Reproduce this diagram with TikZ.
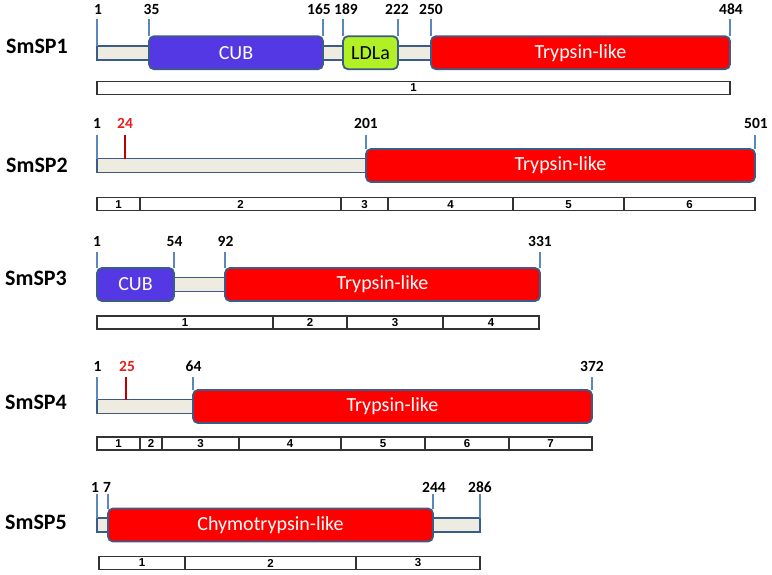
\documentclass[tikz,border=0pt]{standalone}
\usepackage{fontspec}
\setmainfont{Carlito}
\newfontfamily\exonfont{Liberation Sans}
\usetikzlibrary{positioning}
\definecolor{cubblue}{RGB}{84,56,228}
\definecolor{ldlgreen}{RGB}{176,240,36}
\definecolor{tryred}{RGB}{255,0,0}
\definecolor{chain}{RGB}{238,236,225}
\definecolor{edge}{RGB}{60,92,136}
\definecolor{tickblue}{RGB}{90,135,190}
\definecolor{sigred}{RGB}{192,0,0}
\definecolor{sigtext}{RGB}{230,30,30}

\begin{document}
\begin{tikzpicture}[x=1pt,y=-1pt]
\tikzstyle {prot}=[font=\fontsize{22}{26}\selectfont\bfseries]
\tikzstyle {posnum}=[font=\fontsize{15.5}{18}\selectfont\bfseries, inner sep=0pt]
\tikzstyle {signum}=[posnum, text=sigtext]
\tikzstyle {chn}=[rectangle, anchor=west, minimum height=14pt, inner sep=0pt, outer sep=0pt, fill=chain, draw=edge, line width=1.8pt]
\tikzstyle {dom}=[rectangle, rounded corners=5pt, anchor=west, minimum height=33pt, inner sep=0pt, outer sep=0pt, draw=edge, line width=1.8pt, font=\fontsize{20}{24}\selectfont, text=white]
\tikzstyle {cub}=[dom, fill=cubblue]
\tikzstyle {ldl}=[dom, fill=ldlgreen, text=black]
\tikzstyle {tryp}=[dom, fill=tryred]
\tikzstyle {tk}=[draw=tickblue, line width=1.3pt]
\tikzstyle {sigtk}=[draw=sigred, line width=1.5pt]
\tikzstyle {exon}=[rectangle, draw=black!80, line width=1.2pt, fill=white, minimum height=13pt, inner sep=0pt, outer sep=0pt, font=\exonfont\fontsize{11.5}{13}\selectfont\bfseries]
\useasboundingbox (0,0) rectangle (772,574);
% SmSP1
\node (sp1) [prot] at (37,46) {SmSP1};
\node (bb1) [chn, minimum width=334pt] at (97,52.7) {};
\node (cub1) [cub, minimum width=174pt] at (149,52.7) {CUB};
\node (ldl1) [ldl, minimum width=55pt] at (343,52.7) {LDLa};
\node (tryp1) [tryp, minimum width=299pt] at (431,52.7) {Trypsin-like};
\node (n1a) [posnum] at (98,9.5) {1};
\node (n1b) [posnum] at (151.5,9.5) {35};
\node (n1c) [posnum] at (319,9.5) {165};
\node (n1d) [posnum] at (346,9.5) {189};
\node (n1e) [posnum] at (397,9.5) {222};
\node (n1f) [posnum] at (431,9.5) {250};
\node (n1g) [posnum] at (731,9.5) {484};
\coordinate (k1a) at (97,19);
\coordinate (k1b) at (149,19);
\coordinate (k1c) at (323,19);
\coordinate (k1d) at (343,19);
\coordinate (k1e) at (398,19);
\coordinate (k1f) at (431,19);
\coordinate (k1g) at (730,19);
\draw[tk] (k1a) -- (bb1.north west);
\draw[tk] (k1b) -- (cub1.north west);
\draw[tk] (k1c) -- (cub1.north east);
\draw[tk] (k1d) -- (ldl1.north west);
\draw[tk] (k1e) -- (ldl1.north east);
\draw[tk] (k1f) -- (tryp1.north west);
\draw[tk] (k1g) -- (tryp1.north east);
\node (x11) [exon, anchor=west, minimum width=633pt] at (97,87.7) {1};
% SmSP2
\node (sp2) [prot] at (37,165) {SmSP2};
\node (bb2) [chn, minimum width=269pt] at (97,165.5) {};
\node (tryp2) [tryp, minimum width=389pt] at (366,165.5) {Trypsin-like};
\node (n2a) [posnum] at (97,123.5) {1};
\node (n2b) [signum] at (125,123.5) {24};
\node (n2c) [posnum] at (366,123.5) {201};
\node (n2d) [posnum] at (756,123.5) {501};
\coordinate (k2a) at (97,135);
\coordinate (k2b) at (125,135);
\coordinate (k2c) at (366,135);
\coordinate (k2d) at (755,135);
\draw[tk] (k2a) -- (bb2.north west);
\draw[sigtk] (k2b) -- (k2b |- bb2.north);
\draw[tk] (k2c) -- (tryp2.north west);
\draw[tk] (k2d) -- (tryp2.north east);
\node (x21) [exon, anchor=west, minimum width=43pt] at (97,204.3) {1};
\node (x22) [exon, right=0pt of x21, minimum width=201pt] {2};
\node (x23) [exon, right=0pt of x22, minimum width=47pt] {3};
\node (x24) [exon, right=0pt of x23, minimum width=125pt] {4};
\node (x25) [exon, right=0pt of x24, minimum width=111pt] {5};
\node (x26) [exon, right=0pt of x25, minimum width=131pt] {6};
% SmSP3
\node (sp3) [prot] at (36,278.5) {SmSP3};
\node (bb3) [chn, minimum width=128pt] at (97,284.5) {};
\node (cub3) [cub, minimum width=77pt] at (97,284.5) {CUB};
\node (tryp3) [tryp, minimum width=315pt] at (225,284.5) {Trypsin-like};
\node (n3a) [posnum] at (97,241.5) {1};
\node (n3b) [posnum] at (174.5,241.5) {54};
\node (n3c) [posnum] at (225.5,241.5) {92};
\node (n3d) [posnum] at (540,241.5) {331};
\coordinate (k3a) at (97,252);
\coordinate (k3b) at (174,252);
\coordinate (k3c) at (225,252);
\coordinate (k3d) at (540,252);
\draw[tk] (k3a) -- (cub3.north west);
\draw[tk] (k3b) -- (cub3.north east);
\draw[tk] (k3c) -- (tryp3.north west);
\draw[tk] (k3d) -- (tryp3.north east);
\node (x31) [exon, anchor=west, minimum width=176pt] at (97,322.5) {1};
\node (x32) [exon, right=0pt of x31, minimum width=74pt] {2};
\node (x33) [exon, right=0pt of x32, minimum width=96pt] {3};
\node (x34) [exon, right=0pt of x33, minimum width=96pt] {4};
% SmSP4
\node (sp4) [prot] at (36,402.5) {SmSP4};
\node (bb4) [chn, minimum width=96pt] at (97,406.5) {};
\node (tryp4) [tryp, minimum width=399pt] at (193,406.5) {Trypsin-like};
\node (n4a) [posnum] at (97.5,366.5) {1};
\node (n4b) [signum] at (127,366.5) {25};
\node (n4c) [posnum] at (193.5,366.5) {64};
\node (n4d) [posnum] at (592,366.5) {372};
\coordinate (k4a) at (97,377);
\coordinate (k4b) at (126,377);
\coordinate (k4c) at (193,377);
\coordinate (k4d) at (592,377);
\draw[tk] (k4a) -- (bb4.north west);
\draw[sigtk] (k4b) -- (k4b |- bb4.north);
\draw[tk] (k4c) -- (tryp4.north west);
\draw[tk] (k4d) -- (tryp4.north east);
\node (x41) [exon, anchor=west, minimum width=43pt] at (97,443.5) {1};
\node (x42) [exon, right=0pt of x41, minimum width=22pt] {2};
\node (x43) [exon, right=0pt of x42, minimum width=77pt] {3};
\node (x44) [exon, right=0pt of x43, minimum width=102pt] {4};
\node (x45) [exon, right=0pt of x44, minimum width=84pt] {5};
\node (x46) [exon, right=0pt of x45, minimum width=84pt] {6};
\node (x47) [exon, right=0pt of x46, minimum width=83pt] {7};
% SmSP5
\node (sp5) [prot] at (36,522) {SmSP5};
\node (bb5) [chn, minimum width=383pt] at (97,525) {};
\node (chy5) [tryp, minimum width=325pt] at (108,525) {Chymotrypsin-like};
\node (n5a) [posnum] at (95,487.5) {1};
\node (n5b) [posnum] at (107,487.5) {7};
\node (n5c) [posnum] at (434,487.5) {244};
\node (n5d) [posnum] at (480,487.5) {286};
\coordinate (k5a) at (97,494);
\coordinate (k5b) at (108,494);
\coordinate (k5c) at (433,494);
\coordinate (k5d) at (480,494);
\draw[tk] (k5a) -- (bb5.north west);
\draw[tk] (k5b) -- (chy5.north west);
\draw[tk] (k5c) -- (chy5.north east);
\draw[tk] (k5d) -- (bb5.north east);
\node (x51) [exon, anchor=west, minimum width=86pt] at (99,563) {1};
\node (x52) [exon, right=0pt of x51, minimum width=171pt] {2};
\node (x53) [exon, right=0pt of x52, minimum width=124pt] {3};
\end{tikzpicture}
\end{document}
